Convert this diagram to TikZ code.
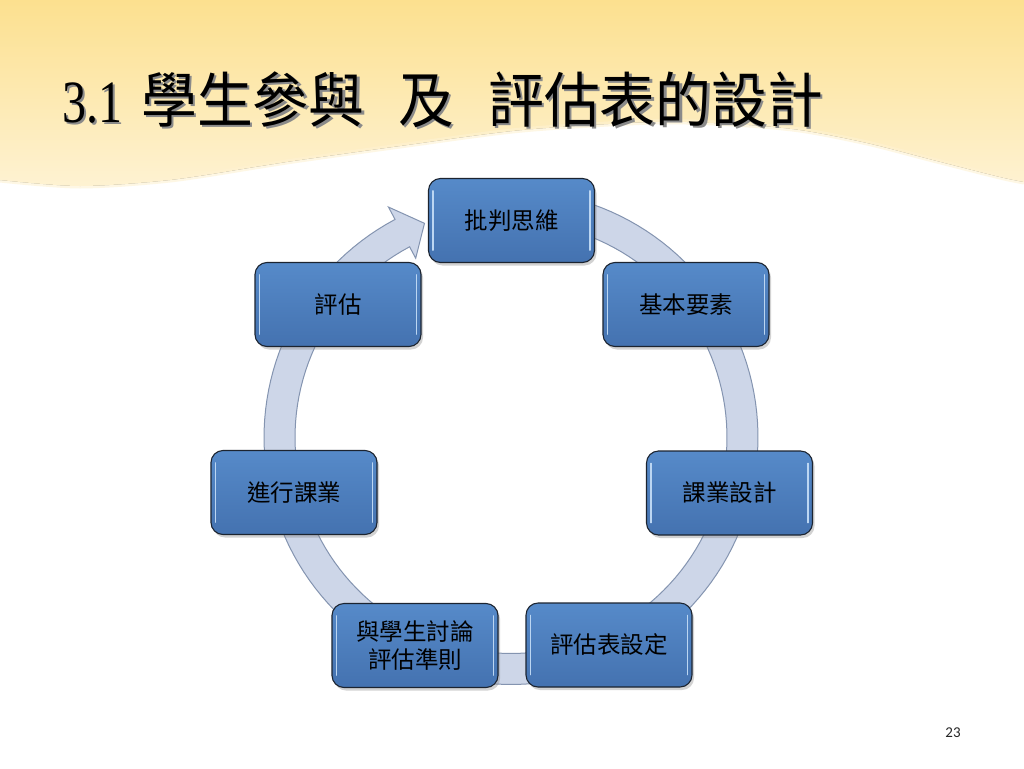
\documentclass[tikz,border=0pt]{standalone}
\usepackage{fontspec}
\setmainfont{Liberation Serif}
\newfontfamily\cjkfont{Noto Sans CJK TC}
\newfontfamily\titlecjkfont[FakeStretch=0.93]{Noto Sans CJK TC}
\newfontfamily\titleserif[FakeStretch=0.8]{Liberation Serif}
\newfontfamily\pgnumfont{Carlito}
\usetikzlibrary{shadows}
\definecolor{wavetop}{HTML}{FCE08F}
\definecolor{wavebot}{HTML}{FEF2D2}
\definecolor{ringfill}{HTML}{CDD6E8}
\definecolor{ringline}{HTML}{8494B0}
\definecolor{boxtop}{HTML}{568AC9}
\definecolor{boxbot}{HTML}{4472B0}
\definecolor{boxline}{HTML}{1C2430}
\definecolor{hlcol}{HTML}{BCD6F2}
\definecolor{tshadowcol}{HTML}{8A8A8A}
\newcommand{\shadowtext}[1]{\rlap{\kern2.5pt\raisebox{-2.5pt}{\textcolor{tshadowcol}{#1}}}#1}
\begin{document}
\begin{tikzpicture}[x=1pt,y=-1pt,
  stepbox/.style={draw=boxline, line width=1.1pt, rounded corners=12pt,
    minimum width=166pt, minimum height=84pt, inner sep=0pt,
    top color=boxtop, bottom color=boxbot,
    drop shadow={shadow xshift=2pt, shadow yshift=-3pt, opacity=0.35},
    font=\cjkfont\fontsize{23.5}{28}\selectfont, text=black, align=center},
  hl/.style={hlcol, line width=1.8pt, line cap=round},
  titlecjk/.style={font=\titlecjkfont\fontsize{60}{64}\selectfont, inner sep=0pt, anchor=base west},
  titlenum/.style={font=\titleserif\fontsize{60}{64}\selectfont, inner sep=0pt, anchor=base west}
]
\useasboundingbox (0,0) rectangle (1024,768);
\fill[white] (0,0) rectangle (1024,768);
% wave background
\fill[top color=wavetop, bottom color=wavebot]
  (0,0) -- (1024,0) -- (1024,182) -- plot[smooth] coordinates {(1024,182) (1000,177) (933,160) (867,143) (800,130) (733,124) (653,122) (522,130) (400,146) (300,160) (261,166) (170,180) (80,186) (0,180)} -- cycle;
\draw[wavebot, line width=5pt, opacity=0.6] plot[smooth] coordinates {(1024,182) (1000,177) (933,160) (867,143) (800,130) (733,124) (653,122) (522,130) (400,146) (300,160) (261,166) (170,180) (80,186) (0,180)};
% title
\node[titlenum] (t1) at (62,122) {\shadowtext{3.1}};
\node[titlecjk] (t2) at (141,122) {\shadowtext{學生參與}};
\node[titlecjk] (t3) at (398,122) {\shadowtext{及}};
\node[titlecjk] (t4) at (488,122) {\shadowtext{評估表的設計}};
% ring arrow
\def\cx{511}\def\cy{437.5}
\filldraw[fill=ringfill, draw=ringline, line width=1pt, line join=miter]
  plot[domain=-80:242, samples=140, variable=\t] ({\cx+247*cos(\t)}, {\cy+247*sin(\t)})
  -- ({\cx+261*cos(242)}, {\cy+261*sin(242)})
  -- ({\cx+231*cos(248)}, {\cy+231*sin(248)})
  -- ({\cx+203*cos(242)}, {\cy+203*sin(242)})
  -- plot[domain=242:-80, samples=140, variable=\t] ({\cx+216*cos(\t)}, {\cy+216*sin(\t)})
  -- cycle;
% nodes
\node[stepbox] (n1) at (511.5,220.5) {批判思維};
\node[stepbox] (n2) at (686,304.5) {基本要素};
\node[stepbox] (n3) at (729.5,493) {課業設計};
\node[stepbox] (n4) at (609,645) {評估表設定};
\node[stepbox] (n5) at (415,645.5) {與學生討論\\評估準則};
\node[stepbox] (n6) at (294,492.5) {進行課業};
\node[stepbox] (n7) at (338,304.5) {評估};
\foreach \n in {n1,n2,n3,n4,n5,n6,n7}{
  \draw[hl] ([xshift=5pt,yshift=-13pt]\n.north west) -- ([xshift=5pt,yshift=13pt]\n.south west);
  \draw[hl] ([xshift=-5pt,yshift=-13pt]\n.north east) -- ([xshift=-5pt,yshift=13pt]\n.south east);
}
% page number
\node[font=\pgnumfont\fontsize{15}{18}\selectfont, text=black!85] (pg) at (953,733) {23};
\end{tikzpicture}
\end{document}
